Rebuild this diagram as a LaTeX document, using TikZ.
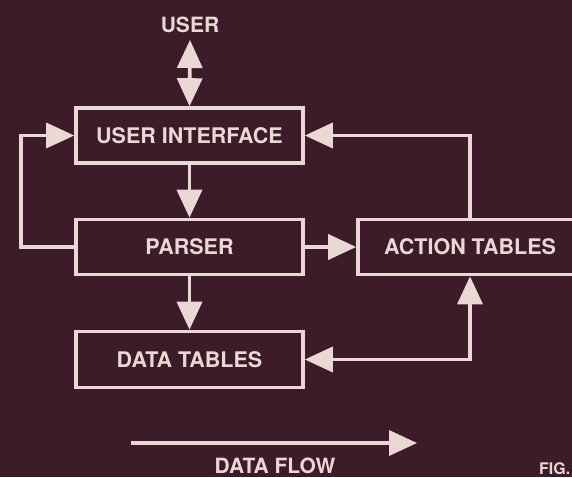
\documentclass[tikz,border=0pt]{standalone}
\usepackage{fontspec}
\setmainfont{TeX Gyre Heros}
\usetikzlibrary{arrows.meta}
\definecolor{bgmaroon}{RGB}{60,28,40}
\definecolor{cream}{RGB}{234,216,212}
\tikzset{
  blk/.style={draw=cream, line width=3.6pt, minimum width=227pt, minimum height=55pt, inner sep=0pt,
    text=cream, font=\fontsize{21.5}{24}\selectfont\bfseries},
  lbl/.style={text=cream, inner sep=0pt, font=\fontsize{21}{24}\selectfont\bfseries},
  flow/.style={draw=cream, line width=3.6pt, -{Triangle[length=28pt,width=25pt]}},
  flow2/.style={draw=cream, line width=3.6pt, {Triangle[length=28pt,width=25pt]}-{Triangle[length=28pt,width=25pt]}}
}
\begin{document}
\begin{tikzpicture}[x=1pt,y=-1pt]
\fill[bgmaroon] (0,0) rectangle (572,477);
\useasboundingbox (0,0) rectangle (572,477);
\clip (0,0) rectangle (572,477);
\node[blk] (ui) at (189.5,135.5) {USER INTERFACE};
\node[blk] (parser) at (189.5,247) {PARSER};
\node[blk, minimum height=56pt] (data) at (189.5,359.5) {DATA TABLES};
\node[blk, minimum width=224pt] (action) at (470,247) {ACTION TABLES};
\node[lbl] (user) at (190,25) {USER};
\node[lbl, anchor=base] (dflabel) at (275,473.5) {DATA FLOW};
\node[lbl, anchor=base west, font=\fontsize{16}{20}\selectfont\bfseries] (fig) at (539,474) {FIG.};
\coordinate (usertip) at (190,40);
\coordinate (lp) at (21,247);
\coordinate (df1) at (131,443);
\coordinate (df2) at (417,443);
\draw[flow2] (usertip) -- (ui.north);
\draw[flow] (ui.south) -- (parser.north);
\draw[flow] (parser.south) -- (data.north);
\draw[flow] (parser.east) -- (action.west);
\draw[flow] (action.north) |- (ui.east);
\draw[flow2] (data.east) -| (action.south);
\draw[flow] (parser.west) -- (lp) |- (ui.west);
\draw[flow] (df1) -- (df2);
\end{tikzpicture}
\end{document}
